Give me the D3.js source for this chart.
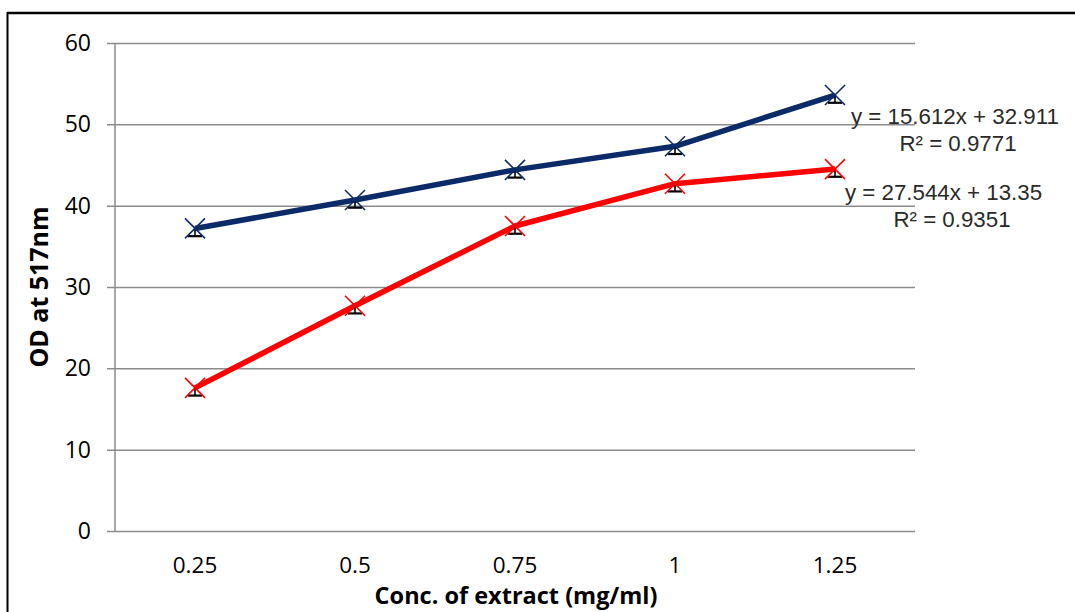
<!DOCTYPE html>
<html>
<head>
<meta charset="utf-8">
<script src="https://cdn.jsdelivr.net/npm/d3@7"></script>
<style>
  body { margin: 0; background: #fff; }
  svg { display: block; }
</style>
</head>
<body>
<div id="chart"></div>
<script>
// data
const concs = ["0.25", "0.5", "0.75", "1", "1.25"];
const seriesBlue = [37.2, 40.7, 44.4, 47.3, 53.6];
const seriesRed = [17.6, 27.7, 37.5, 42.7, 44.5];
const errBlue = [0.95, 0.95, 0.95, 0.95, 0.95];
const errRed = [0.95, 0.95, 0.95, 0.95, 0.95];
const yTicks = [0, 10, 20, 30, 40, 50, 60];
const eqBlue = ["y = 15.612x + 32.911", "R\u00b2 = 0.9771"];
const eqRed = ["y = 27.544x + 13.35", "R\u00b2 = 0.9351"];

const width = 1075, height = 612;
const m = {left: 115, right: 160, top: 43, bottom: 81};

const svg = d3.select("#chart").append("svg")
    .attr("width", width)
    .attr("height", height);

// chart frame (only top and left edges show)
svg.append("line").attr("x1", 7).attr("x2", width).attr("y1", 13).attr("y2", 13)
    .attr("stroke", "#000").attr("stroke-width", 2.5);
svg.append("line").attr("x1", 7.5).attr("x2", 7.5).attr("y1", 12).attr("y2", height)
    .attr("stroke", "#000").attr("stroke-width", 2);

const x = d3.scaleBand().domain(concs).range([m.left, width - m.right]);
const y = d3.scaleLinear().domain([0, 60]).range([height - m.bottom, m.top]);

// gridlines + y axis
const yAxis = d3.axisLeft(y).tickValues(yTicks)
    .tickSize(-(width - m.right - m.left));
const gy = svg.append("g").attr("transform", `translate(${m.left},0)`).call(yAxis);
gy.select(".domain").remove();
gy.selectAll(".tick line").attr("stroke", "#8c8c8c").attr("stroke-width", 1.5)
    .attr("x1", -8);
gy.selectAll(".tick text")
    .style("font-family", "'Open Sans', sans-serif")
    .style("font-size", "23px").attr("fill", "#000").attr("x", -24);

svg.append("line").attr("x1", m.left).attr("x2", m.left)
    .attr("y1", y(60)).attr("y2", y(0))
    .attr("stroke", "#8c8c8c").attr("stroke-width", 1.5);

// x axis labels
const xAxis = d3.axisBottom(x).tickSize(0).tickPadding(26);
const gx = svg.append("g").attr("transform", `translate(0,${y(0)})`).call(xAxis);
gx.select(".domain").remove();
gx.selectAll(".tick text")
    .style("font-family", "'Open Sans', sans-serif")
    .style("font-size", "22.5px").attr("fill", "#000");

// titles
svg.append("text")
    .attr("x", (m.left + width - m.right) / 2 + 1)
    .attr("y", 604)
    .attr("text-anchor", "middle")
    .style("font-family", "'Open Sans', sans-serif")
    .style("font-weight", "bold")
    .style("font-size", "23.5px")
    .text("Conc. of extract (mg/ml)");

svg.append("text")
    .attr("transform", `translate(48,${(y(0) + y(60)) / 2}) rotate(-90)`)
    .attr("text-anchor", "middle")
    .style("font-family", "'Open Sans', sans-serif")
    .style("font-weight", "bold")
    .style("font-size", "25px")
    .text("OD at 517nm");

const cx = d => x(d) + x.bandwidth() / 2;

function drawSeries(vals, errs, color) {
    const pts = concs.map((c, i) => ({c, v: vals[i], e: errs[i]}));
    const line = d3.line().x(d => cx(d.c)).y(d => y(d.v));
    svg.append("path").datum(pts)
        .attr("d", line)
        .attr("fill", "none")
        .attr("stroke", color)
        .attr("stroke-width", 5.5)
        .attr("stroke-linejoin", "round");

    // error bars (minus side shows below the marker)
    const eb = svg.append("g").attr("stroke", "#000").attr("stroke-width", 1.6);
    pts.forEach(d => {
        eb.append("line").attr("x1", cx(d.c)).attr("x2", cx(d.c))
            .attr("y1", y(d.v - d.e)).attr("y2", y(d.v));
        eb.append("line").attr("x1", cx(d.c) - 7).attr("x2", cx(d.c) + 7)
            .attr("y1", y(d.v - d.e)).attr("y2", y(d.v - d.e)).attr("stroke-width", 2.2);
    });

    // x markers
    const mk = svg.append("g").attr("stroke", color).attr("stroke-width", 1.6);
    pts.forEach(d => {
        const px = cx(d.c), py = y(d.v), r = 10;
        mk.append("line").attr("x1", px - r).attr("y1", py - r).attr("x2", px + r).attr("y2", py + r);
        mk.append("line").attr("x1", px - r).attr("y1", py + r).attr("x2", px + r).attr("y2", py - r);
    });
}

drawSeries(seriesBlue, errBlue, "#0b2a68");
drawSeries(seriesRed, errRed, "#ff0000");

// trendline equations
function drawEq(lines, xStart, yTop) {
    const g = svg.append("g")
        .style("font-family", "'Liberation Sans', Arial, sans-serif")
        .style("font-size", "22.3px")
        .attr("fill", "#2a2a2a");
    g.append("text").attr("x", xStart).attr("y", yTop).text(lines[0]);
    g.append("text").attr("x", xStart + 107).attr("y", yTop + 27)
        .attr("text-anchor", "middle").text(lines[1]);
}
drawEq(eqBlue, 851, 124);
drawEq(eqRed, 845, 200);
</script>
</body>
</html>
